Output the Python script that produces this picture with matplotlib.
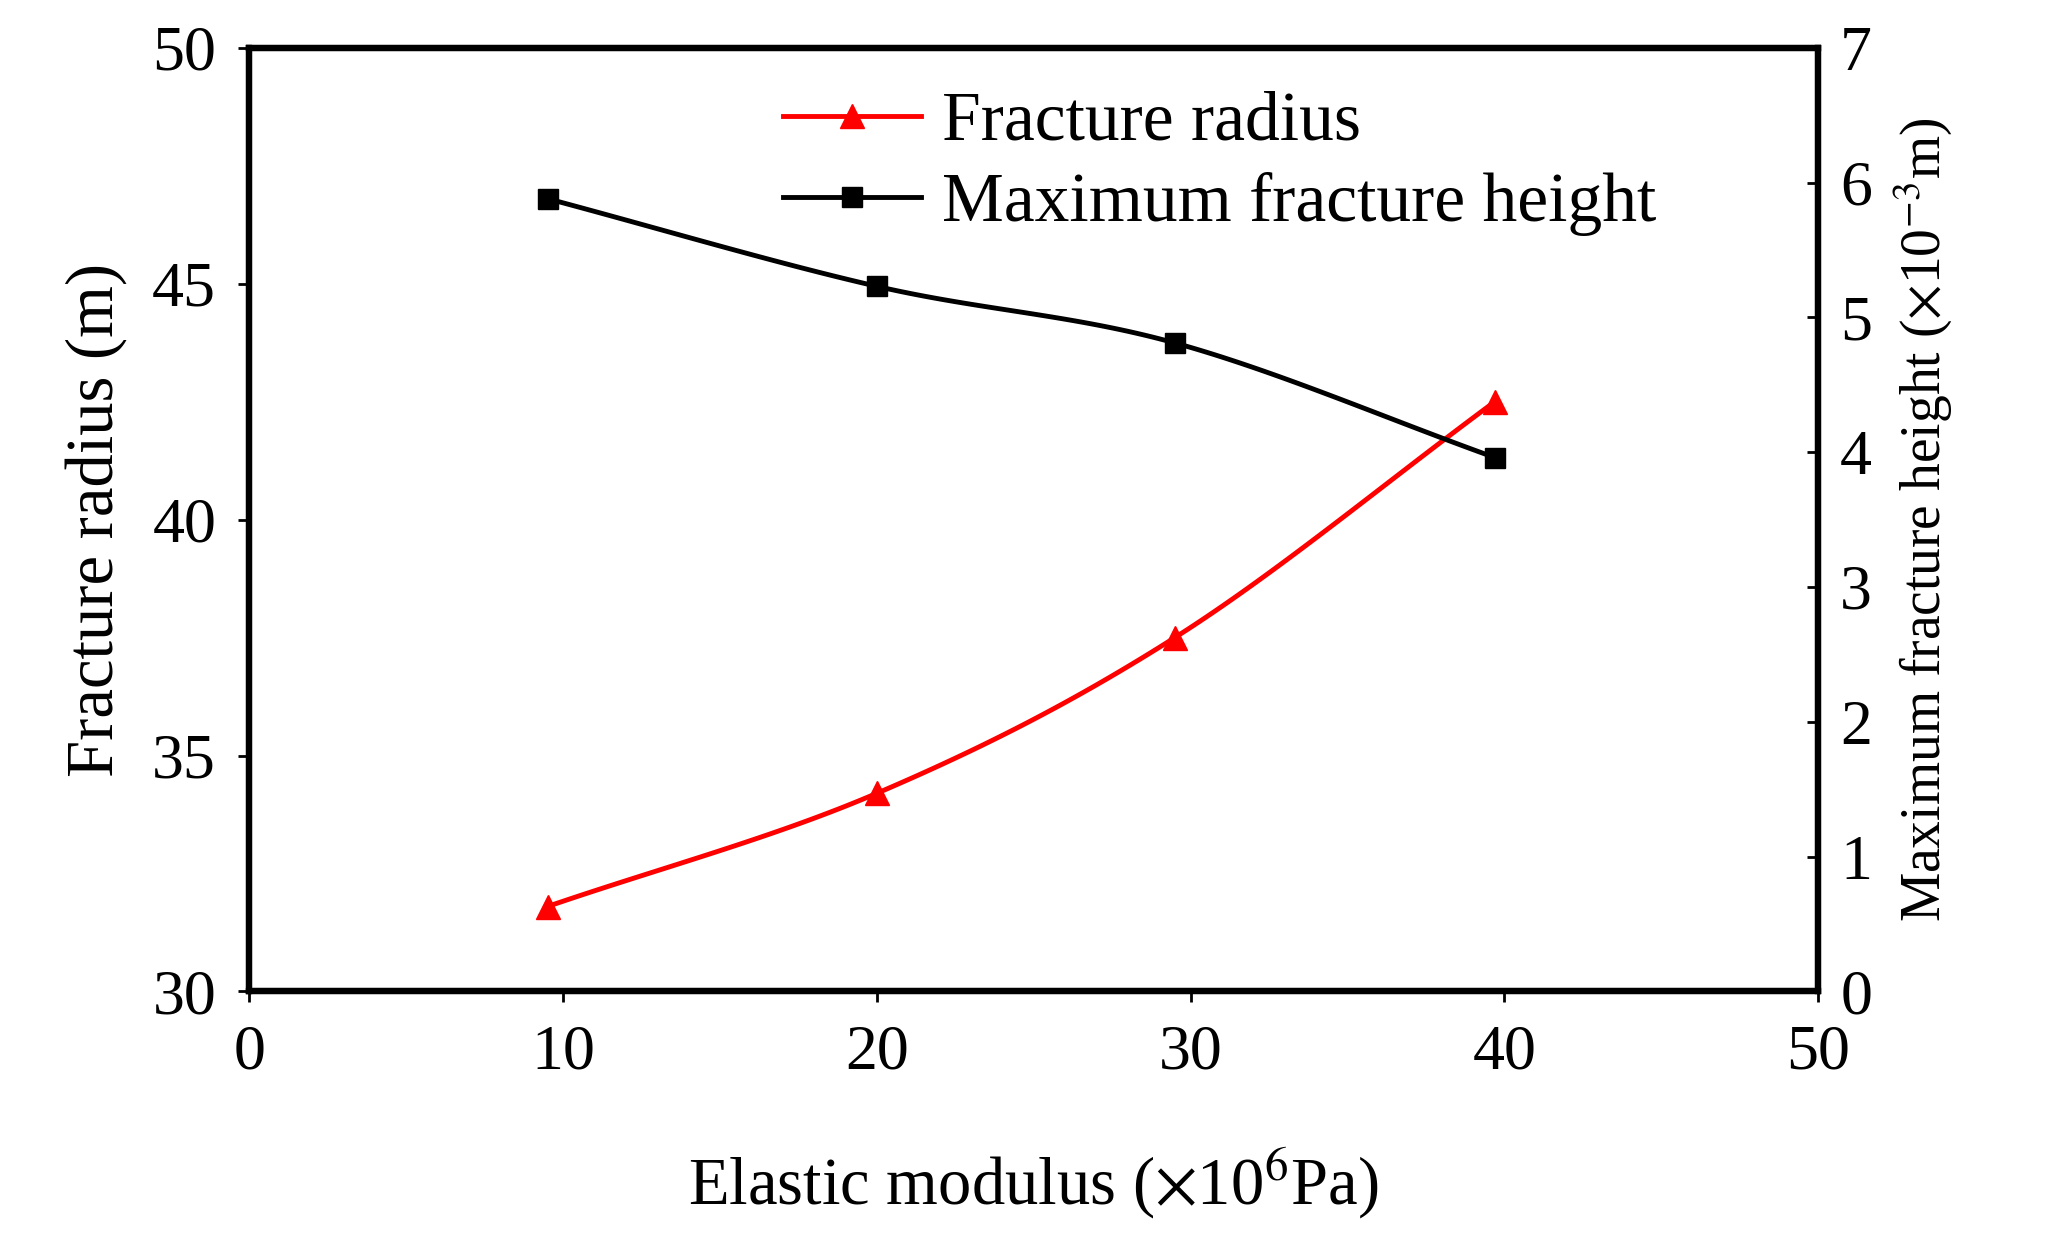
import numpy as np
import matplotlib

matplotlib.use("Agg")
import matplotlib.pyplot as plt  # noqa: E402
from matplotlib.lines import Line2D  # noqa: E402

plt.rcParams["font.family"] = ["Liberation Serif", "DejaVu Serif"]
plt.rcParams["mathtext.fontset"] = "stix"

modulus = [9.5, 20.0, 29.5, 39.7]
fracture_radius = [31.8, 34.2, 37.5, 42.5]
max_height = [5.88, 5.23, 4.81, 3.96]


def _smooth(x, y, n=40):
    # Catmull-Rom spline, only for drawing the curve between points
    x = np.asarray(x, float)
    y = np.asarray(y, float)
    px = np.concatenate([[2 * x[0] - x[1]], x, [2 * x[-1] - x[-2]]])
    py = np.concatenate([[2 * y[0] - y[1]], y, [2 * y[-1] - y[-2]]])
    xs, ys = [], []
    t = np.linspace(0, 1, n)
    for i in range(1, len(px) - 2):
        for p, out in ((px, xs), (py, ys)):
            p0, p1, p2, p3 = p[i - 1:i + 3]
            out.extend(0.5 * (2 * p1 + (-p0 + p2) * t
                              + (2 * p0 - 5 * p1 + 4 * p2 - p3) * t ** 2
                              + (-p0 + 3 * p1 - 3 * p2 + p3) * t ** 3))
    return xs, ys


fig = plt.figure(figsize=(20.45, 12.55), dpi=100)
ax = fig.add_axes([0.122, 0.21, 0.767, 0.752])
ax2 = ax.twinx()

sx, sy = _smooth(modulus, fracture_radius)
ax.plot(sx, sy, color="red", linewidth=3.5)
ax.plot(modulus, fracture_radius, "^", color="red", markersize=17)
sx, sy = _smooth(modulus, max_height)
ax2.plot(sx, sy, color="black", linewidth=3.5)
ax2.plot(modulus, max_height, "s", color="black", markersize=14)

ax.set_xlim(0, 50)
ax.set_ylim(30, 50)
ax2.set_ylim(0, 7)
ax.set_xticks(range(0, 51, 10))
ax.set_yticks(range(30, 51, 5))
ax2.set_yticks(range(0, 8))

for a in (ax, ax2):
    for s in a.spines.values():
        s.set_linewidth(4.5)
ax.tick_params(labelsize=46, width=2, length=8, pad=16)
ax2.tick_params(labelsize=46, width=2, length=8, direction="in", pad=16)

ax.set_xlabel("Elastic modulus ($\\times$10$^6$Pa)", fontsize=48, labelpad=45)
ax.set_ylabel("Fracture radius (m)", fontsize=48, labelpad=18)
ax2.set_ylabel("Maximum fracture height ($\\times$10$^{-3}$m)", fontsize=40,
               labelpad=14)

handles = [
    Line2D([], [], color="red", marker="^", markersize=17, linewidth=3.5),
    Line2D([], [], color="black", marker="s", markersize=14, linewidth=3.5),
]
ax.legend(handles, ["Fracture radius", "Maximum fracture height"],
          loc="upper left", bbox_to_anchor=(0.3, 1.02), frameon=False,
          fontsize=50, handlelength=2.0, handletextpad=0.3, labelspacing=0.25)

fig.savefig("out.png", dpi=100)
